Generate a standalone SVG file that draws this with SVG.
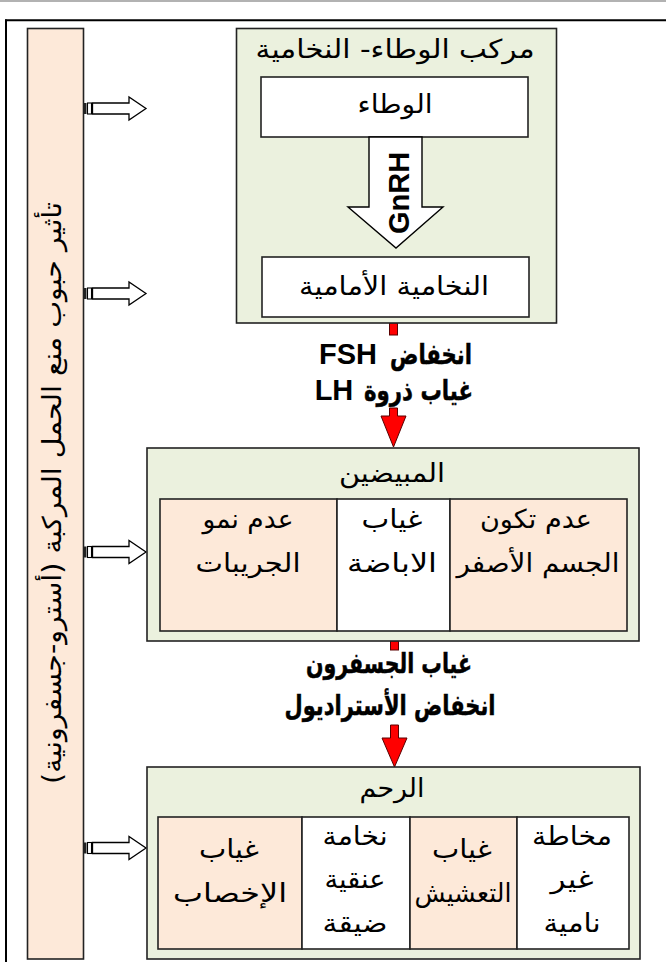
<svg xmlns="http://www.w3.org/2000/svg" width="666" height="962" viewBox="0 0 666 962">
<defs>
<style>
.ar{font-family:"DejaVu Sans",sans-serif;font-size:26px;fill:#000;text-anchor:middle;direction:rtl}
.ab{font-family:"DejaVu Sans",sans-serif;font-weight:bold;font-size:28px;fill:#000;stroke:#000;stroke-width:0.5;text-anchor:middle;direction:rtl}
.bd{font-family:"Liberation Sans",Arial,sans-serif;font-weight:bold;font-size:29px;fill:#000;text-anchor:middle}
.grp{fill:#ebf1de;stroke:#222;stroke-width:1.6}
.peach{fill:#fde9d9;stroke:#222;stroke-width:1.6}
.wht{fill:#fff;stroke:#222;stroke-width:1.6}
.red{fill:#ff0000;stroke:#5a0000;stroke-width:1}
.blk{fill:#fff;stroke:#000;stroke-width:1.3}
</style>
<g id="sarrow">
<rect x="84" y="-5.5" width="2.5" height="11" fill="#222"/>
<rect x="87.5" y="-5.5" width="4" height="11" fill="#fff" stroke="#000" stroke-width="1.1"/>
<path d="M92.5,-5.5 H129 V-11.5 L146,0 L129,11.5 V5.5 H92.5 Z" class="blk"/>
</g>
</defs>
<rect x="0" y="0" width="666" height="962" fill="#fff"/>
<g id="frame">
<line x1="0" y1="1" x2="666" y2="1" stroke="#999" stroke-width="1.5"/>
<line x1="5" y1="20.3" x2="666" y2="20.3" stroke="#000" stroke-width="2"/>
<line x1="6" y1="19.5" x2="6" y2="962" stroke="#000" stroke-width="2"/>
</g>
<g id="pill">
<rect x="27.5" y="28.5" width="56" height="930.5" class="peach"/>
<text class="ar" font-size="30" transform="translate(61,493) rotate(-90)" textLength="582" lengthAdjust="spacingAndGlyphs">تأثير حبوب منع الحمل المركبة (أسترو-جسفرونية)</text>
</g>
<g id="connectors">
<use href="#sarrow" y="108.5"/>
<use href="#sarrow" y="293.5"/>
<use href="#sarrow" y="552"/>
<use href="#sarrow" y="848"/>
<rect x="389.5" y="323" width="8" height="12" class="red"/>
<path d="M389.5,408 H397.5 V416 H406 L393.5,447 L381,416 H389.5 Z" class="red"/>
<rect x="390.5" y="641" width="8" height="9" class="red"/>
<path d="M390.5,725 H398.5 V738 H407 L394.5,767 L382,738 H390.5 Z" class="red"/>
<text class="ab" x="431" y="364" textLength="82" lengthAdjust="spacingAndGlyphs">انخفاض</text>
<text class="bd" x="348" y="364">FSH</text>
<text class="ab" x="418.5" y="400" textLength="109" lengthAdjust="spacingAndGlyphs">غياب ذروة</text>
<text class="bd" x="334" y="400">LH</text>
<text class="ab" x="389" y="673" textLength="166" lengthAdjust="spacingAndGlyphs">غياب الجسفرون</text>
<text class="ab" x="390" y="715" textLength="211" lengthAdjust="spacingAndGlyphs">انخفاض الأستراديول</text>
</g>
<g id="complex">
<rect x="236.5" y="28.5" width="320" height="294.5" class="grp"/>
<text class="ar" x="395" y="58" textLength="279" lengthAdjust="spacingAndGlyphs">مركب الوطاء- النخامية</text>
</g>
<g id="hypothalamus">
<rect x="261" y="77" width="267" height="60" class="wht"/>
<text class="ar" x="395" y="113" textLength="75" lengthAdjust="spacingAndGlyphs">الوطاء</text>
</g>
<g id="gnrh">
<path d="M369,137 H422 V207 H443 L396,248 L348,207 H369 Z" fill="#fff" stroke="#000" stroke-width="1.4"/>
<text class="bd" font-size="31" transform="translate(409,193) rotate(-90)">GnRH</text>
</g>
<g id="pituitary">
<rect x="262" y="257" width="267" height="60" class="wht"/>
<text class="ar" x="394" y="295" textLength="190" lengthAdjust="spacingAndGlyphs">النخامية الأمامية</text>
</g>
<g id="ovaries">
<rect x="147" y="448" width="492" height="193" class="grp"/>
<text class="ar" x="392" y="482" textLength="106" lengthAdjust="spacingAndGlyphs">المبيضين</text>
<rect x="160" y="499" width="177" height="132" class="peach"/>
<rect x="337" y="499" width="113" height="132" class="wht"/>
<rect x="450" y="499" width="177" height="132" class="peach"/>
<text class="ar" x="248" y="528" textLength="91" lengthAdjust="spacingAndGlyphs">عدم نمو</text>
<text class="ar" x="248" y="572" textLength="105" lengthAdjust="spacingAndGlyphs">الجريبات</text>
<text class="ar" x="392" y="528" textLength="61" lengthAdjust="spacingAndGlyphs">غياب</text>
<text class="ar" x="392" y="572" textLength="90" lengthAdjust="spacingAndGlyphs">الاباضة</text>
<text class="ar" x="536" y="528" textLength="112" lengthAdjust="spacingAndGlyphs">عدم تكون</text>
<text class="ar" x="538" y="572" textLength="163" lengthAdjust="spacingAndGlyphs">الجسم الأصفر</text>
</g>
<g id="uterus">
<rect x="147" y="767" width="493" height="192" class="grp"/>
<text class="ar" x="392" y="797" textLength="65" lengthAdjust="spacingAndGlyphs">الرحم</text>
<rect x="158" y="817" width="144" height="132" class="peach"/>
<rect x="302" y="817" width="108" height="132" class="wht"/>
<rect x="410" y="817" width="107" height="132" class="peach"/>
<rect x="517" y="817" width="112" height="132" class="wht"/>
<text class="ar" x="229" y="858" textLength="60" lengthAdjust="spacingAndGlyphs">غياب</text>
<text class="ar" x="230" y="902" textLength="114" lengthAdjust="spacingAndGlyphs">الإخصاب</text>
<text class="ar" x="355" y="845" textLength="65" lengthAdjust="spacingAndGlyphs">نخامة</text>
<text class="ar" x="355" y="888" textLength="61" lengthAdjust="spacingAndGlyphs">عنقية</text>
<text class="ar" x="355" y="932" textLength="65" lengthAdjust="spacingAndGlyphs">ضيقة</text>
<text class="ar" x="462" y="858" textLength="60" lengthAdjust="spacingAndGlyphs">غياب</text>
<text class="ar" x="463" y="902" textLength="97" lengthAdjust="spacingAndGlyphs">التعشيش</text>
<text class="ar" x="572" y="845" textLength="80" lengthAdjust="spacingAndGlyphs">مخاطة</text>
<text class="ar" x="572" y="888" textLength="43" lengthAdjust="spacingAndGlyphs">غير</text>
<text class="ar" x="572" y="932" textLength="57" lengthAdjust="spacingAndGlyphs">نامية</text>
</g>
</svg>
